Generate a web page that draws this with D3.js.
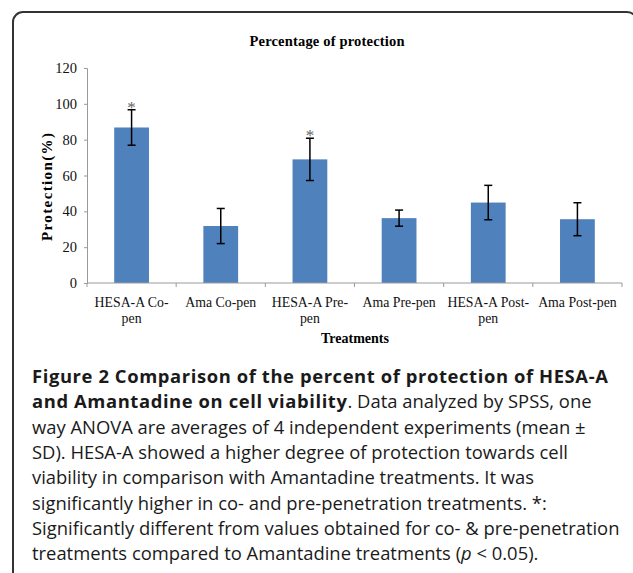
<!DOCTYPE html>
<html>
<head>
<meta charset="utf-8">
<script src="https://cdn.jsdelivr.net/npm/d3@7"></script>
<style>
  html, body { margin: 0; padding: 0; background: #fff; }
  svg { display: block; }
</style>
</head>
<body>
<div id="canvas"></div>
<script>
// data
let labels = [["HESA-A Co-", "pen"], ["Ama Co-pen"], ["HESA-A Pre-", "pen"], ["Ama Pre-pen"], ["HESA-A Post-", "pen"], ["Ama Post-pen"]]
let means = [86.8, 31.8, 69.0, 36.2, 44.9, 35.6]
let sds = [9.9, 9.8, 11.8, 4.5, 9.6, 9.2]
let starred = [true, false, true, false, false, false]
let yTicks = [0, 20, 40, 60, 80, 100, 120]

let captionLines = [
    [{ t: "Figure 2 Comparison of the percent of protection of HESA-A", w: "bold" }],
    [{ t: "and Amantadine on cell viability", w: "bold" }, { t: ". Data analyzed by SPSS, one" }],
    [{ t: "way ANOVA are averages of 4 independent experiments (mean \u00b1" }],
    [{ t: "SD). HESA-A showed a higher degree of protection towards cell" }],
    [{ t: "viability in comparison with Amantadine treatments. It was" }],
    [{ t: "significantly higher in co- and pre-penetration treatments. *:" }],
    [{ t: "Significantly different from values obtained for co- & pre-penetration" }],
    [{ t: "treatments compared to Amantadine treatments (" }, { t: "p", s: "italic" }, { t: " < 0.05)." }]
]

let W = 633, H = 573
let svg = d3.select('#canvas').append('svg')
    .attr('width', W).attr('height', H)

// outer frame with rounded corner
svg.append('rect')
    .attr('x', 13).attr('y', 12)
    .attr('width', 624).attr('height', 600)
    .attr('rx', 10)
    .style('fill', 'none')
    .style('stroke', '#333')
    .style('stroke-width', 2)

let serif = '"Liberation Serif", "Times New Roman", serif'

let xScale = d3.scaleBand()
    .domain(d3.range(means.length))
    .range([87, 622])

let yScale = d3.scaleLinear()
    .domain([0, 120])
    .range([283, 68])

let plot = svg.append('g')

// y axis
let yAxis = d3.axisLeft(yScale).tickValues(yTicks).tickSize(3).tickPadding(7)
let gy = plot.append('g')
    .attr('transform', 'translate(87,0)')
    .call(yAxis)
gy.selectAll('path, line').style('stroke', '#9a9a9a')
gy.selectAll('text').style('font-family', serif).style('font-size', '14.5px').style('fill', '#111')

// bars
let barW = xScale.bandwidth() * 0.39
plot.selectAll('.bar')
    .data(means)
    .enter()
    .append('rect')
    .attr('class', 'bar')
    .attr('x', (d, i) => xScale(i) + (xScale.bandwidth() - barW) / 2)
    .attr('y', d => yScale(d))
    .attr('width', barW)
    .attr('height', d => yScale(0) - yScale(d))
    .style('fill', '#4f81bd')

// x axis line and boundary ticks
plot.append('line')
    .attr('x1', xScale.range()[0]).attr('x2', xScale.range()[1])
    .attr('y1', yScale(0)).attr('y2', yScale(0))
    .style('stroke', '#9a9a9a')
let bounds = d3.range(means.length + 1).map(i => xScale.range()[0] + i * xScale.step())
plot.selectAll('.xtick')
    .data(bounds)
    .enter()
    .append('line')
    .attr('x1', d => d).attr('x2', d => d)
    .attr('y1', yScale(0)).attr('y2', yScale(0) + 4)
    .style('stroke', '#9a9a9a')

// error bars
let cx = i => xScale(i) + xScale.bandwidth() / 2
let err = plot.selectAll('.err')
    .data(means)
    .enter()
    .append('g')
    .style('stroke', '#000')
    .style('stroke-width', 1.5)
err.append('line')
    .attr('x1', (d, i) => cx(i)).attr('x2', (d, i) => cx(i))
    .attr('y1', (d, i) => yScale(d + sds[i])).attr('y2', (d, i) => yScale(d - sds[i]))
err.append('line')
    .attr('x1', (d, i) => cx(i) - 4).attr('x2', (d, i) => cx(i) + 4)
    .attr('y1', (d, i) => yScale(d + sds[i])).attr('y2', (d, i) => yScale(d + sds[i]))
err.append('line')
    .attr('x1', (d, i) => cx(i) - 4).attr('x2', (d, i) => cx(i) + 4)
    .attr('y1', (d, i) => yScale(d - sds[i])).attr('y2', (d, i) => yScale(d - sds[i]))

// significance marks
plot.selectAll('.star')
    .data(d3.range(means.length).filter(i => starred[i]))
    .enter()
    .append('text')
    .attr('x', i => cx(i))
    .attr('y', i => yScale(means[i] + sds[i]) + 3)
    .attr('text-anchor', 'middle')
    .style('font-family', serif)
    .style('font-size', '17px')
    .style('fill', '#666')
    .text('*')

// category labels
let xl = plot.selectAll('.xlab')
    .data(labels)
    .enter()
    .append('text')
    .attr('text-anchor', 'middle')
    .style('font-family', serif)
    .style('font-size', '13.8px')
    .style('fill', '#111')
xl.selectAll('tspan')
    .data((d, i) => d.map(s => ({ s: s, i: i })))
    .enter()
    .append('tspan')
    .attr('x', d => cx(d.i))
    .attr('y', (d, j) => 307 + j * 16)
    .text(d => d.s)

// titles
svg.append('text')
    .attr('x', 327).attr('y', 46)
    .attr('text-anchor', 'middle')
    .attr('textLength', 155).attr('lengthAdjust', 'spacing')
    .style('font-family', serif).style('font-size', '14.5px').style('font-weight', 'bold')
    .text('Percentage of protection')

svg.append('text')
    .attr('x', 355).attr('y', 343)
    .attr('text-anchor', 'middle')
    .style('font-family', serif).style('font-size', '14px').style('font-weight', 'bold')
    .text('Treatments')

svg.append('text')
    .attr('transform', 'translate(52,187) rotate(-90)')
    .attr('text-anchor', 'middle')
    .attr('textLength', 108).attr('lengthAdjust', 'spacing')
    .style('font-family', serif).style('font-size', '15px').style('font-weight', 'bold')
    .text('Protection(%)')

// caption
let cap = svg.append('g')
    .style('font-family', '"Open Sans", "Noto Sans", sans-serif')
    .style('font-size', '18.4px')
    .style('fill', '#1a1a1a')
captionLines.forEach((line, k) => {
    let t = cap.append('text')
        .attr('x', 32)
        .attr('y', 383 + k * 25.3)
    line.forEach(p => {
        t.append('tspan')
            .style('font-weight', p.w || 'normal')
            .style('font-style', p.s || 'normal')
            .style('letter-spacing', p.w ? '0.6px' : '0px')
            .text(p.t)
    })
})
</script>
</body>
</html>
